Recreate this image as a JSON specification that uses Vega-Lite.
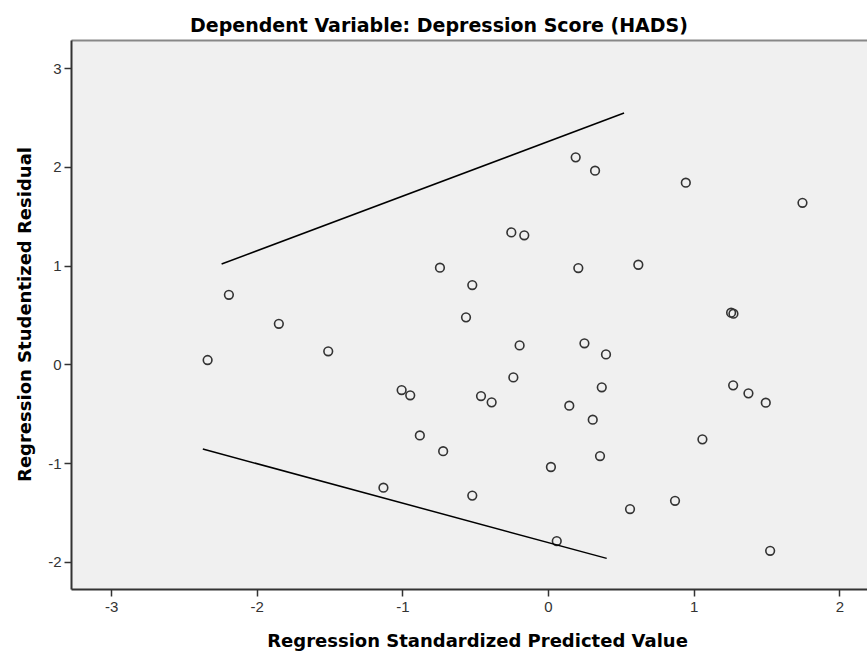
{
  "$schema": "https://vega.github.io/schema/vega-lite/v6.json",
  "width": 796,
  "height": 549,
  "autosize": "none",
  "padding": {"left": 71, "top": 40, "right": 0, "bottom": 64},
  "background": "white",
  "title": {
    "text": "Dependent Variable: Depression Score (HADS)",
    "font": "DejaVu Sans",
    "fontSize": 19,
    "fontWeight": "bold",
    "color": "#000",
    "anchor": "middle",
    "dx": -30,
    "dy": 21,
    "offset": 10,
    "baseline": "alphabetic"
  },
  "datasets": {
    "points": [
      {"predicted": -2.337, "residual": 0.044},
      {"predicted": -2.191, "residual": 0.705},
      {"predicted": -1.848, "residual": 0.411},
      {"predicted": -1.509, "residual": 0.132},
      {"predicted": -1.005, "residual": -0.26},
      {"predicted": -0.946, "residual": -0.314},
      {"predicted": -0.742, "residual": 0.979},
      {"predicted": -0.563, "residual": 0.476},
      {"predicted": -0.52, "residual": 0.803},
      {"predicted": -0.46, "residual": -0.321},
      {"predicted": -0.387, "residual": -0.385},
      {"predicted": -0.252, "residual": 1.337},
      {"predicted": -0.163, "residual": 1.307},
      {"predicted": -0.238, "residual": -0.132},
      {"predicted": -0.195, "residual": 0.192},
      {"predicted": 0.19, "residual": 2.097},
      {"predicted": 0.323, "residual": 1.962},
      {"predicted": 0.208, "residual": 0.976},
      {"predicted": 0.25, "residual": 0.213},
      {"predicted": 0.398, "residual": 0.101},
      {"predicted": 0.369, "residual": -0.233},
      {"predicted": 0.146, "residual": -0.419},
      {"predicted": 0.307, "residual": -0.561},
      {"predicted": 0.62, "residual": 1.009},
      {"predicted": 0.946, "residual": 1.84},
      {"predicted": 1.747, "residual": 1.637},
      {"predicted": 1.257, "residual": 0.523},
      {"predicted": 1.273, "residual": 0.513},
      {"predicted": 1.271, "residual": -0.213},
      {"predicted": 1.376, "residual": -0.294},
      {"predicted": 1.495, "residual": -0.389},
      {"predicted": -0.88, "residual": -0.72},
      {"predicted": -0.72, "residual": -0.88},
      {"predicted": -1.13, "residual": -1.25},
      {"predicted": -0.52, "residual": -1.33},
      {"predicted": 0.02, "residual": -1.04},
      {"predicted": 0.357, "residual": -0.929},
      {"predicted": 1.06, "residual": -0.76},
      {"predicted": 0.563, "residual": -1.466},
      {"predicted": 0.872, "residual": -1.382},
      {"predicted": 1.525, "residual": -1.889},
      {"predicted": 0.06, "residual": -1.79}
    ],
    "lines": [
      {"line": "upper", "x": -2.241, "y": 1.016},
      {"line": "upper", "x": 0.522, "y": 2.546},
      {"line": "lower", "x": -2.37, "y": -0.858},
      {"line": "lower", "x": 0.403, "y": -1.966}
    ]
  },
  "config": {
    "view": {"fill": "#f0f0f0", "stroke": null},
    "axis": {
      "grid": false,
      "domainColor": "#333",
      "domainWidth": 2,
      "tickColor": "#333",
      "tickWidth": 1.5,
      "tickSize": 7,
      "labelFont": "Liberation Sans",
      "labelFontSize": 15,
      "labelColor": "#333",
      "titleFont": "DejaVu Sans",
      "titleFontSize": 18,
      "titleFontWeight": "bold",
      "titleColor": "#000"
    }
  },
  "resolve": {"axis": {"x": "independent"}},
  "layer": [
    {
      "data": {"name": "points"},
      "mark": {"type": "point", "shape": "circle", "filled": false, "size": 75, "strokeWidth": 1.6, "color": "#333", "opacity": 1},
      "encoding": {
        "x": {
          "field": "predicted",
          "type": "quantitative",
          "scale": {"domain": [-3.275, 2.19], "nice": false, "zero": false},
          "axis": {
            "orient": "bottom",
            "values": [-3, -2, -1, 0, 1, 2],
            "labelExpr": "'' + datum.value",
            "labelPadding": 3,
            "title": "Regression Standardized Predicted Value",
            "titleX": 406,
            "titleY": 57,
            "titleBaseline": "alphabetic",
            "titleAnchor": "middle",
            "titleAlign": "center"
          }
        },
        "y": {
          "field": "residual",
          "type": "quantitative",
          "scale": {"domain": [-2.276, 3.286], "nice": false, "zero": false},
          "axis": {
            "values": [-2, -1, 0, 1, 2, 3],
            "labelExpr": "'' + datum.value",
            "labelPadding": 3,
            "title": "Regression Studentized Residual",
            "titleX": -41,
            "titleY": 274,
            "titleAngle": 270,
            "titleBaseline": "alphabetic",
            "titleAlign": "center"
          }
        }
      }
    },
    {
      "data": {"name": "lines"},
      "mark": {"type": "line", "color": "#000", "strokeWidth": 1.5},
      "encoding": {
        "x": {
          "field": "x",
          "type": "quantitative",
          "axis": {"orient": "top", "labels": false, "ticks": false, "title": null, "domainColor": "#888", "domainWidth": 2}
        },
        "y": {"field": "y", "type": "quantitative"},
        "detail": {"field": "line"}
      }
    }
  ]
}
